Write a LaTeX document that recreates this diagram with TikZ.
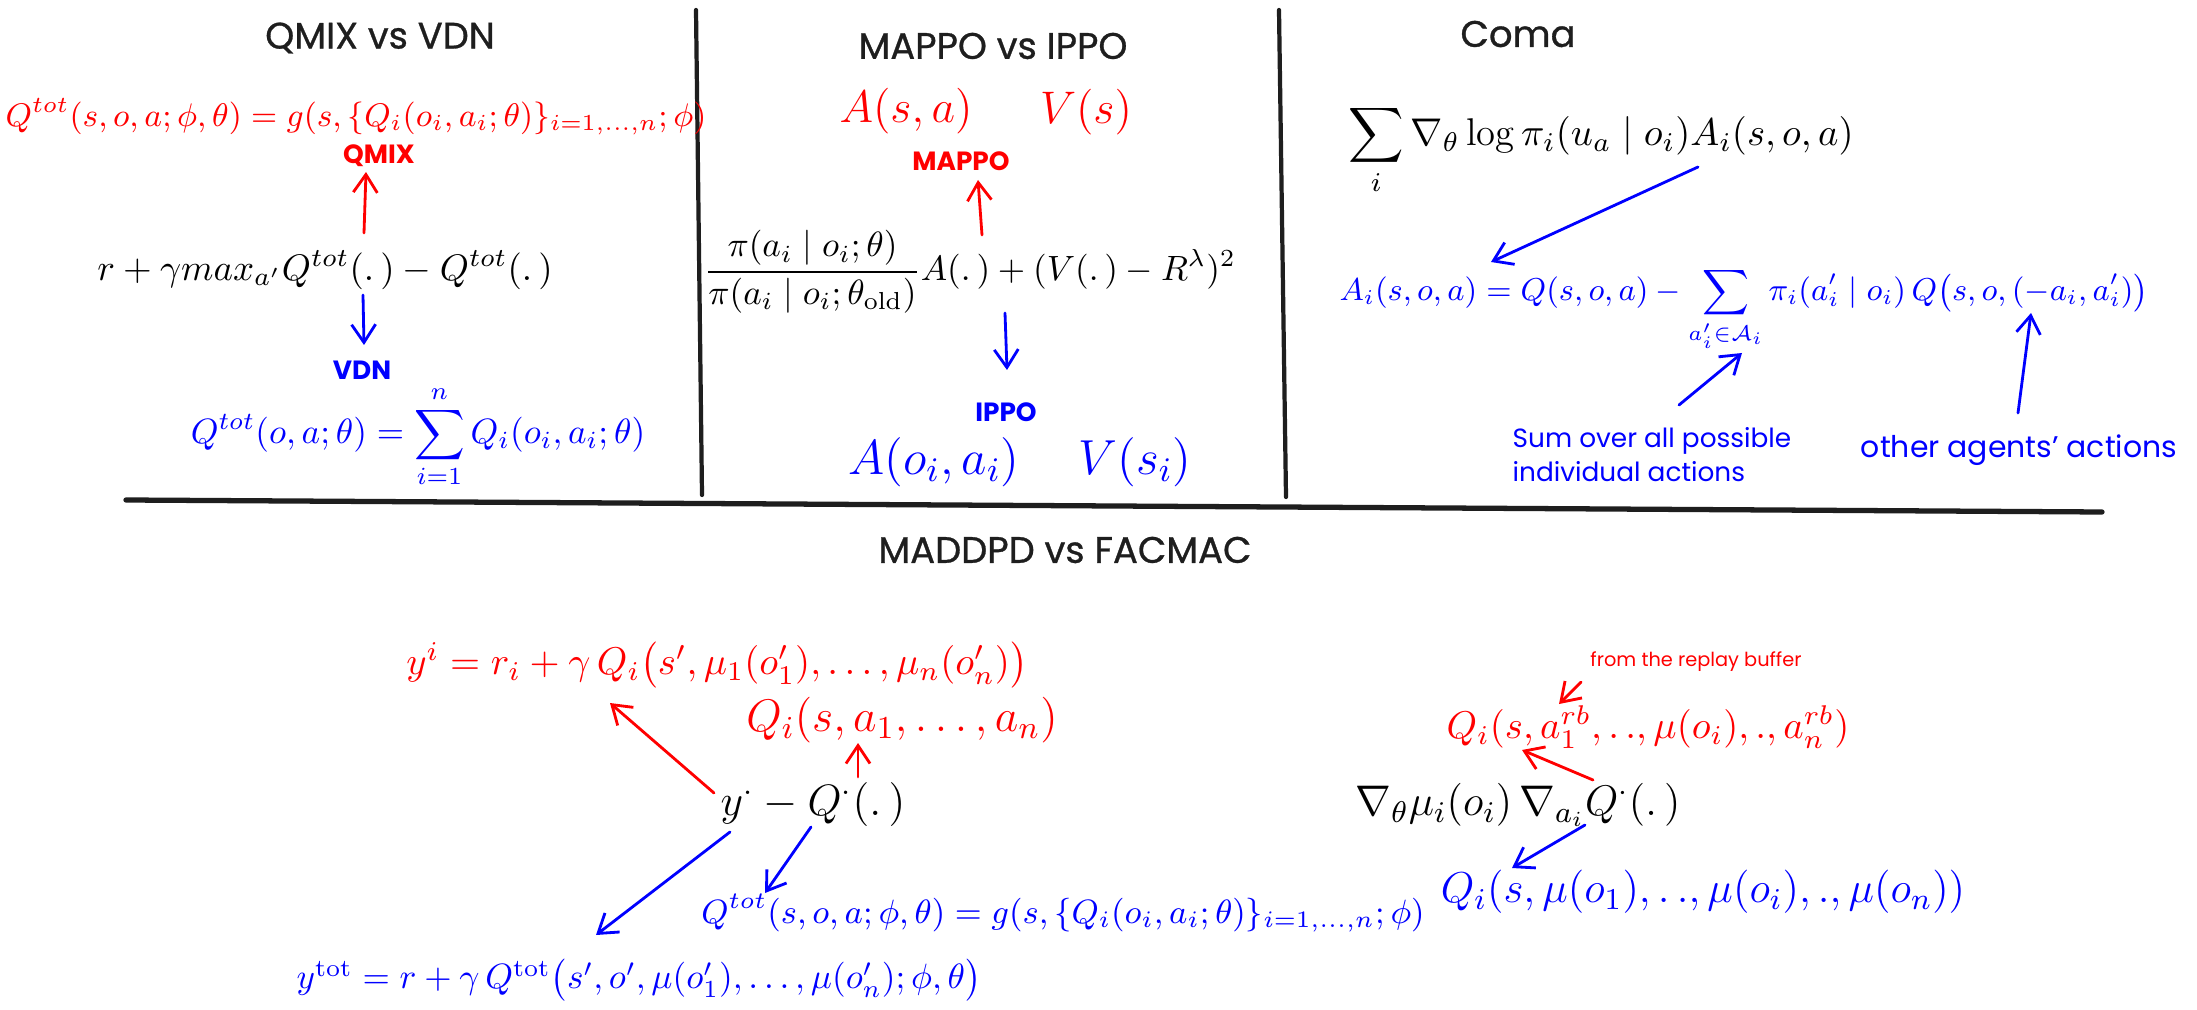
\documentclass[tikz,border=0pt]{standalone}
\usepackage{fix-cm}
\usepackage{amsmath}
\usepackage{fontspec}
\usepackage{tikz}
\usetikzlibrary{arrows.meta}
\newfontfamily\handfont{Poppins}
\newfontfamily\headfont[FakeBold=0.8]{Poppins}
\definecolor{sketchred}{HTML}{FF0000}
\definecolor{sketchblue}{HTML}{0000FF}
\definecolor{sketchink}{HTML}{1E1E1E}

\begin{document}
\begin{tikzpicture}[x=0.1mm,y=-0.1mm,
  every node/.style={inner sep=2pt},
  headline/.style={text=sketchink,font=\headfont\fontsize{10.5}{12}\selectfont},
  tagtext/.style={font=\handfont\bfseries\fontsize{7.5}{9}\selectfont},
  notetext/.style={font=\handfont\fontsize{#1}{9.7}\selectfont},
  eqn/.style={font=\fontsize{#1}{#1}\selectfont},
  arr/.style={line width=0.8pt,line cap=round,-{Straight Barb[length=1.8mm,width=2.4mm]}},
  redarr/.style={arr,draw=sketchred},
  bluearr/.style={arr,draw=sketchblue},
  rulestroke/.style={draw=sketchink,line width=1.2pt,line cap=round}]
  \fill[white] (0,0) rectangle (2197,1010);
  \useasboundingbox (0,0) rectangle (2197,1010);
  % frame of the four panels
  \draw[rulestroke] (696,10) -- (702,495);
  \draw[rulestroke] (1279,10) -- (1286,497);
  \draw[rulestroke,line width=1.5pt] (126,500) -- (2102,512);

  % QMIX vs VDN
  \node[headline] (tqmix) at (380,38) {QMIX vs VDN};
  \node[eqn=9.3,text=sketchred] (qmixeq) at (356,117)
    {$Q^{tot}(s,o,a;\phi,\theta)=g(s,\{Q_i(o_i,a_i;\theta)\}_{i=1,\ldots,n};\phi)$};
  \node[tagtext,text=sketchred] (qmixlbl) at (379,156) {QMIX};
  \node[eqn=10.5] (qmixin) at (325,270) {$r+\gamma max_{a'}Q^{tot}(.\,)-Q^{tot}(.\,)$};
  \node[tagtext,text=sketchblue] (vdnlbl) at (362,370) {VDN};
  \node[eqn=10,text=sketchblue] (vdneq) at (418,437)
    {$\displaystyle Q^{tot}(o,a;\theta)=\sum_{i=1}^{n}Q_i(o_i,a_i;\theta)$};
  \draw[redarr] ([shift={(39,-37)}]qmixin.center) -- ([shift={(-13,16)}]qmixlbl.center);
  \draw[bluearr] ([shift={(38,25)}]qmixin.center) -- ([shift={(2,-25)}]vdnlbl.center);

  % MAPPO vs IPPO
  \node[headline] (tmappo) at (993,46) {MAPPO vs IPPO};
  \node[eqn=13,text=sketchred] (asa) at (906,111) {$A(s,a)$};
  \node[eqn=13,text=sketchred] (vs) at (1086,112) {$V(s)$};
  \node[tagtext,text=sketchred] (mappolbl) at (961,161) {MAPPO};
  \node[eqn=10] (ppoeq) at (970,272)
    {$\displaystyle\frac{\pi(a_i\mid o_i;\theta)}{\pi(a_i\mid o_i;\theta_{\mathrm{old}})}A(.\,)+(V(.\,)-R^{\lambda})^2$};
  \node[tagtext,text=sketchblue] (ippolbl) at (1006,412) {IPPO};
  \node[eqn=14,text=sketchblue] (aoi) at (934,462) {$A(o_i,a_i)$};
  \node[eqn=14,text=sketchblue] (vsi) at (1135,462) {$V(s_i)$};
  \draw[redarr] ([shift={(12,-37)}]ppoeq.center) -- ([shift={(17,19)}]mappolbl.center);
  \draw[bluearr] ([shift={(35,41)}]ppoeq.center) -- ([shift={(1,-42)}]ippolbl.center);

  % Coma
  \node[headline] (tcoma) at (1518,34) {Coma};
  \node[eqn=11] (comaeq) at (1601,150)
    {$\displaystyle\sum_i\nabla_\theta\log\pi_i(u_a\mid o_i)A_i(s,o,a)$};
  \node[eqn=9,text=sketchblue] (adveq) at (1744,310)
    {$\displaystyle A_i(s,o,a)=Q(s,o,a)-\sum_{a'_i\in\mathcal{A}_i}\pi_i(a'_i\mid o_i)\,Q\bigl(s,o,(-a_i,a'_i)\bigr)$};
  \node[notetext=7.5,text=sketchblue,align=left] (sumlbl) at (1652,455)
    {Sum over all possible\\individual actions};
  \node[notetext=8.5,text=sketchblue] (otherlbl) at (2019,450) {other agents’ actions};
  \draw[bluearr] ([shift={(97,17)}]comaeq.center) -- ([shift={(-253,-48)}]adveq.center);
  \draw[bluearr] ([shift={(27,-50)}]sumlbl.center) -- ([shift={(-2,43)}]adveq.center);
  \draw[bluearr] ([shift={(-1,-37)}]otherlbl.center) -- ([shift={(287,3)}]adveq.center);

  % MADDPD vs FACMAC
  \node[headline] (tmaddpd) at (1065,550) {MADDPD vs FACMAC};
  \node[eqn=11,text=sketchred] (yieq) at (717,665)
    {$y^i=r_i+\gamma\,Q_i\bigl(s',\mu_1(o'_1),\ldots,\mu_n(o'_n)\bigr)$};
  \node[eqn=13,text=sketchred] (qaeq) at (902,720) {$Q_i(s,a_1,\ldots,a_n)$};
  \node[eqn=12.5] (tdeq) at (813,805) {$y^{\cdot}-Q^{\cdot}(.\,)$};
  \node[eqn=9.6,text=sketchblue] (qtoteq) at (1063,913)
    {$Q^{tot}(s,o,a;\phi,\theta)=g(s,\{Q_i(o_i,a_i;\theta)\}_{i=1,\ldots,n};\phi)$};
  \node[eqn=10,text=sketchblue] (ytoteq) at (639,980)
    {$y^{\mathrm{tot}}=r+\gamma\,Q^{\mathrm{tot}}\bigl(s',o',\mu(o'_1),\ldots,\mu(o'_n);\phi,\theta\bigr)$};
  \draw[redarr] ([shift={(45,-28)}]tdeq.center) -- ([shift={(-44,23)}]qaeq.center);
  \draw[redarr] ([shift={(-99,-12)}]tdeq.center) -- ([shift={(-107,38)}]yieq.center);
  \draw[bluearr] ([shift={(-83,27)}]tdeq.center) -- ([shift={(-43,-45)}]ytoteq.center);
  \draw[bluearr] ([shift={(-2,22)}]tdeq.center) -- ([shift={(-298,-20)}]qtoteq.center);

  % actor gradient with replay-buffer actions
  \node[notetext=5.5,text=sketchred] (rblbl) at (1696,662) {from the replay buffer};
  \node[eqn=11,text=sketchred] (rbeq) at (1648,727) {$Q_i(s,a_1^{rb},.\,.,\mu(o_i),.,a_n^{rb})$};
  \node[eqn=12.2] (gradeq) at (1518,805) {$\nabla_\theta\mu_i(o_i)\,\nabla_{a_i}Q^{\cdot}(.\,)$};
  \node[eqn=12.3,text=sketchblue] (qmueq) at (1703,892) {$Q_i(s,\mu(o_1),.\,.,\mu(o_i),.,\mu(o_n))$};
  \draw[redarr] ([shift={(-115,20)}]rblbl.center) -- ([shift={(-89,-23)}]rbeq.center);
  \draw[redarr] ([shift={(75,-25)}]gradeq.center) -- ([shift={(-126,23)}]rbeq.center);
  \draw[bluearr] ([shift={(67,20)}]gradeq.center) -- ([shift={(-191,-24)}]qmueq.center);
\end{tikzpicture}
\end{document}
